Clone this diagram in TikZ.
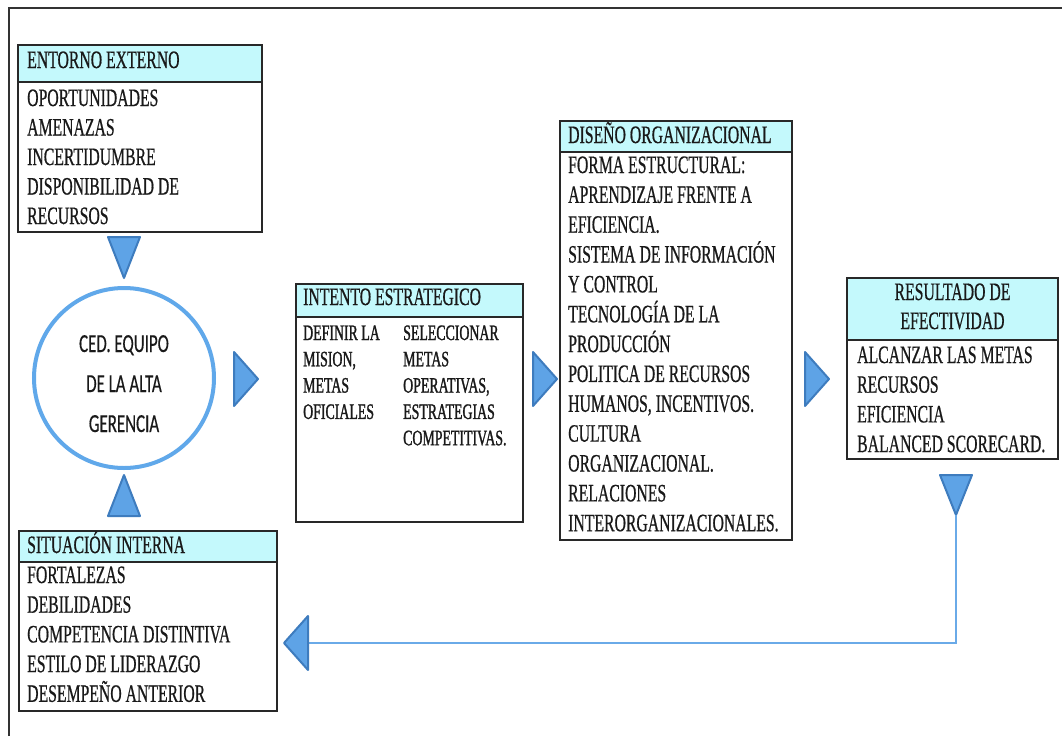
\documentclass[tikz,border=0pt]{standalone}
\usepackage{fontspec}
\newfontfamily\serc[FakeStretch=0.63,FakeBold=0.6]{Liberation Serif}
\newfontfamily\sercb[FakeStretch=0.63,FakeBold=1.2]{Liberation Serif}
\newfontfamily\sanc[FakeStretch=0.65,FakeBold=0.4]{Carlito}
\definecolor{hdrcyan}{RGB}{196,249,252}
\definecolor{trifill}{RGB}{94,163,230}
\definecolor{triedge}{RGB}{62,124,190}
\definecolor{circedge}{RGB}{96,168,234}
\definecolor{linkblue}{RGB}{106,170,232}
\definecolor{boxedge}{RGB}{40,40,40}
\begin{document}
\begin{tikzpicture}[x=1pt,y=-1pt,
  box/.style={draw=boxedge, line width=1.4pt, rectangle, inner sep=0pt, outer sep=0pt, anchor=north west},
  hdr/.style={box, fill=hdrcyan},
  txt/.style={anchor=base west, inner sep=0pt, text=black!90, font=\serc\fontsize{25}{30}\selectfont},
  txtc/.style={txt, anchor=base},
  stxt/.style={txt, font=\sercb\fontsize{22}{26}\selectfont},
  ctxt/.style={anchor=base, inner sep=0pt, text=black!90, font=\sanc\fontsize{26}{30}\selectfont},
  tri/.style={fill=trifill, draw=triedge, line width=2pt, line join=round},
  link/.style={draw=linkblue, line width=1.6pt},
  frame/.style={draw=black!80, line width=2pt}
]
\useasboundingbox (0,0) rectangle (1062,736);
\fill[white] (0,0) rectangle (1062,736);
\draw[frame] (9,736) -- (9,8) -- (1062,8);

% ENTORNO EXTERNO
\node[box, minimum width=244pt, minimum height=150pt] (entB) at (18,82) {};
\node[hdr, minimum width=244pt, minimum height=37pt] (entH) at (18,45) {};
\node[txt] (entT) at (27,68) {ENTORNO EXTERNO};
\foreach \t [count=\i from 0] in {OPORTUNIDADES, AMENAZAS, INCERTIDUMBRE, DISPONIBILIDAD DE, RECURSOS}
  \node[txt] (ent\i) at (27,{106+29.5*\i}) {\t};

% CIRCLE
\node[circle, draw=circedge, line width=4pt, minimum size=180pt, inner sep=0pt] (ced) at (124,378) {};
\node[ctxt] (ced1) at (124,352) {CED. EQUIPO};
\node[ctxt] (ced2) at (124,392) {DE LA ALTA};
\node[ctxt] (ced3) at (124,432) {GERENCIA};

% triangles around circle
\coordinate (t1tip) at (124,278);
\draw[tri] (108,237) -- (140,237) -- (t1tip) -- cycle;
\coordinate (t2tip) at (124,475);
\draw[tri] (108,516) -- (140,516) -- (t2tip) -- cycle;
\coordinate (t3tip) at (258,379);
\draw[tri] (234,352) -- (234,406) -- (t3tip) -- cycle;

% INTENTO ESTRATEGICO
\node[box, minimum width=227pt, minimum height=205pt] (intB) at (296,317) {};
\node[hdr, minimum width=227pt, minimum height=33pt] (intH) at (296,284) {};
\node[txt] (intT) at (303,305) {INTENTO ESTRATEGICO};
\foreach \t [count=\i from 0] in {DEFINIR LA, {MISION,}, METAS, OFICIALES}
  \node[stxt] (intL\i) at (303,{340+26.3*\i}) {\t};
\foreach \t [count=\i from 0] in {SELECCIONAR, METAS, {OPERATIVAS,}, ESTRATEGIAS, COMPETITIVAS.}
  \node[stxt] (intR\i) at (403,{340+26.3*\i}) {\t};

\coordinate (t4tip) at (557,379);
\draw[tri] (533,352) -- (533,406) -- (t4tip) -- cycle;

% DISENO ORGANIZACIONAL
\node[box, minimum width=232pt, minimum height=388pt] (disB) at (560,152) {};
\node[hdr, minimum width=232pt, minimum height=31pt] (disH) at (560,121) {};
\node[txt] (disT) at (568,143) {DISEÑO ORGANIZACIONAL};
\foreach \t [count=\i from 0] in {FORMA ESTRUCTURAL:, APRENDIZAJE FRENTE A, EFICIENCIA., SISTEMA DE INFORMACIÓN, Y CONTROL, TECNOLOGÍA DE LA, PRODUCCIÓN, POLITICA DE RECURSOS, {HUMANOS, INCENTIVOS.}, CULTURA, ORGANIZACIONAL., RELACIONES, INTERORGANIZACIONALES.}
  \node[txt] (dis\i) at (568,{173+29.85*\i}) {\t};

\coordinate (t5tip) at (829,379);
\draw[tri] (805,352) -- (805,406) -- (t5tip) -- cycle;

% RESULTADO DE EFECTIVIDAD
\node[box, minimum width=211pt, minimum height=119pt] (resB) at (847,340) {};
\node[hdr, minimum width=211pt, minimum height=62pt] (resH) at (847,278) {};
\node[txtc] (resT1) at (952.5,300) {RESULTADO DE};
\node[txtc] (resT2) at (952.5,329) {EFECTIVIDAD};
\foreach \t [count=\i from 0] in {ALCANZAR LAS METAS, RECURSOS, EFICIENCIA, BALANCED SCORECARD.}
  \node[txt] (res\i) at (857,{363+29.7*\i}) {\t};

\coordinate (t6tip) at (956,515);
\draw[tri] (940,475) -- (972,475) -- (t6tip) -- cycle;

% SITUACION INTERNA
\node[box, minimum width=258pt, minimum height=149pt] (sitB) at (19,562) {};
\node[hdr, minimum width=258pt, minimum height=31pt] (sitH) at (19,531) {};
\node[txt] (sitT) at (27,553) {SITUACIÓN INTERNA};
\foreach \t [count=\i from 0] in {FORTALEZAS, DEBILIDADES, COMPETENCIA DISTINTIVA, ESTILO DE LIDERAZGO, DESEMPEÑO ANTERIOR}
  \node[txt] (sit\i) at (27,{583+29.7*\i}) {\t};

% feedback connector
\coordinate (t7base) at (308,643);
\draw[link] (t6tip) |- (t7base);
\coordinate (t7tip) at (284,643);
\draw[tri] (308,616) -- (308,670) -- (t7tip) -- cycle;
\end{tikzpicture}
\end{document}
